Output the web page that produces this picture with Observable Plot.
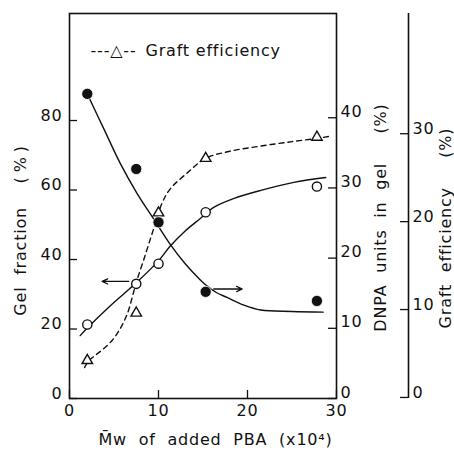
<!DOCTYPE html>
<html><head><meta charset="utf-8">
<script src="https://cdn.jsdelivr.net/npm/d3@7"></script>
<script src="https://cdn.jsdelivr.net/npm/@observablehq/plot@0.6"></script>
<style>
body{margin:0;background:#fff;}
svg text{letter-spacing:0.8px;}
</style></head><body><div id="chart"></div>
<script>
// measured points (x = Mw of added PBA, x10^4)
const mw = [2, 7.5, 10, 15.3, 27.8];
const gelFraction = [21.3, 33.0, 38.8, 53.6, 61.0];   // %, left axis (open circles)
const dnpaUnits = [43.4, 32.7, 25.1, 15.2, 13.9];     // %, DNPA axis (filled circles)
const graftEff = [4.2, 9.6, 21.0, 27.2, 29.6];        // %, graft axis (triangles)

// hand-drawn guide curves
const gelCurveX = [1.2, 2, 4.5, 7.5, 10, 11.3, 13, 14.7, 16.2, 18.5, 21.5, 25.2, 28.8];
const gelCurveY = [18.1, 20.3, 26.5, 33.3, 39.6, 43.8, 48.2, 51.8, 55, 57.6, 59.9, 62.2, 63.6];
const dnpaCurveX = [2, 3.9, 5.7, 7.6, 9.5, 11.3, 13, 14.7, 15.5, 16.5, 17.7, 19.6, 21.5, 25, 28.5];
const dnpaCurveY = [43.4, 38.3, 33.5, 29.2, 25.5, 22.0, 19.2, 16.9, 16.0, 15.1, 14.4, 13.3, 12.6, 12.4, 12.3];
const graftCurveX = [1.7, 2.1, 2.9, 3.9, 4.8, 5.5, 6.1, 6.6, 7.1, 7.6, 8.35, 9.3, 10.4, 11.3, 13.3, 15.3, 18, 21.5, 25, 28, 29.2];
const graftCurveY = [3.4, 4.1, 4.8, 5.6, 6.5, 7.5, 8.6, 9.8, 11.6, 13.4, 15.7, 18.7, 22.1, 23.7, 25.6, 27.2, 28.0, 28.6, 29.1, 29.5, 29.7];

// arrows pointing to the axis of each series
const gelArrow = {x1: 6.65, x2: 3.67, v: 33.7};
const dnpaArrow = {x1: 16.2, x2: 19.4, v: 15.6};

// tick labels
const xTicks = [0, 10, 20, 30];
const gelTicks = [0, 20, 40, 60, 80];
const dnpaTicks = [0, 10, 20, 30, 40];
const graftTicks = [0, 10, 20, 30];

const legendSymbol = "---\u25B3--";
const legendText = "Graft efficiency";
const xTitle = "M\u0304w\u00a0\u00a0of\u00a0\u00a0added\u00a0\u00a0PBA\u00a0\u00a0(x10\u2074)";
const gelTitle = "Gel\u00a0\u00a0fraction\u00a0\u00a0\u00a0\u00a0(\u2009%\u2009)";
const dnpaTitle = "DNPA\u00a0\u00a0units\u00a0\u00a0in\u00a0\u00a0gel\u00a0\u00a0\u00a0\u00a0\u00a0(%)";
const graftTitle = "Graft\u00a0\u00a0efficiency\u00a0\u00a0\u00a0\u00a0\u00a0(%)";

// secondary axes expressed on the left (gel) scale
const F_DNPA = 2.02;
const F_GRAFT = 2.53, OFF_GRAFT = 0.3;
const fromDnpa = v => v * F_DNPA;
const fromGraft = v => v * F_GRAFT + OFF_GRAFT;

const X_MAX = 30, Y_MAX = 110.8;
const TICK_X = 0.9;   // tick length in x units (~8 px)
const TICK_Y = 2.3;   // tick length in y units (~8 px)

const pts = mw.map((x, i) => ({x, gel: gelFraction[i], dnpa: fromDnpa(dnpaUnits[i]), graft: fromGraft(graftEff[i])}));
const gelCurve = gelCurveX.map((x, i) => ({x, y: gelCurveY[i]}));
const dnpaCurve = dnpaCurveX.map((x, i) => ({x, y: fromDnpa(dnpaCurveY[i])}));
const graftCurve = graftCurveX.map((x, i) => ({x, y: fromGraft(graftCurveY[i])}));
const arrows = [
  {x1: gelArrow.x1, x2: gelArrow.x2, y: gelArrow.v},
  {x1: dnpaArrow.x1, x2: dnpaArrow.x2, y: fromDnpa(dnpaArrow.v)}
];

const ink = "#111";
const chart = Plot.plot({
  width: 454, height: 450,
  marginLeft: 69, marginRight: 118, marginTop: 13, marginBottom: 52,
  x: {domain: [0, X_MAX]},
  y: {domain: [0, Y_MAX]},
  style: {fontFamily: "'DejaVu Sans', sans-serif", fontSize: "16px", color: ink, background: "#fff", overflow: "visible"},
  marks: [
    Plot.frame({stroke: ink, strokeWidth: 1.6}),
    Plot.ruleX([X_MAX], {dx: 72, stroke: ink, strokeWidth: 1.6}),
    // inward ticks
    Plot.ruleX(xTicks, {x: d => d, y1: 0, y2: TICK_Y, stroke: ink, strokeWidth: 1.3}),
    Plot.ruleY(gelTicks, {y: d => d, x1: 0, x2: TICK_X, stroke: ink, strokeWidth: 1.3}),
    Plot.ruleY(dnpaTicks.map(fromDnpa), {y: d => d, x1: X_MAX - TICK_X, x2: X_MAX, stroke: ink, strokeWidth: 1.3}),
    Plot.ruleY(graftTicks.map(fromGraft), {y: d => d, x1: X_MAX - TICK_X, x2: X_MAX, dx: 72, stroke: ink, strokeWidth: 1.3}),
    // tick labels
    Plot.axisX({ticks: xTicks, anchor: "bottom", tickSize: 0, tickPadding: 6, label: null, tickFormat: d => String(d)}),
    Plot.axisY({ticks: gelTicks, anchor: "left", tickSize: 0, tickPadding: 7, dy: -5, label: null, tickFormat: d => String(d)}),
    Plot.axisY({ticks: dnpaTicks.map(fromDnpa), anchor: "right", tickSize: 0, tickPadding: 4, dy: -6, label: null,
      tickFormat: d => String(Math.round(d / F_DNPA))}),
    Plot.axisY({ticks: graftTicks.map(fromGraft), anchor: "right", tickSize: 0, tickPadding: 4, dx: 72, dy: -5, label: null,
      tickFormat: d => String(Math.round((d - OFF_GRAFT) / F_GRAFT))}),
    // curves
    Plot.line(gelCurve, {x: "x", y: "y", curve: "catmull-rom", stroke: ink, strokeWidth: 1.4}),
    Plot.line(dnpaCurve, {x: "x", y: "y", curve: "catmull-rom", stroke: ink, strokeWidth: 1.4}),
    Plot.line(graftCurve, {x: "x", y: "y", curve: "catmull-rom", stroke: ink, strokeWidth: 1.4, strokeDasharray: "5,4"}),
    // arrows
    Plot.arrow(arrows, {x1: "x1", x2: "x2", y1: "y", y2: "y", stroke: ink, strokeWidth: 1.3, headLength: 7, headAngle: 50}),
    // markers
    Plot.dot(pts, {x: "x", y: "graft", symbol: "triangle", r: 3.9, fill: "white", stroke: ink, strokeWidth: 1.4}),
    Plot.dot(pts, {x: "x", y: "gel", r: 4.6, fill: "white", stroke: ink, strokeWidth: 1.4}),
    Plot.dot(pts, {x: "x", y: "dnpa", r: 5.6, fill: ink, stroke: "white", strokeWidth: 0.8}),
    // legend
    Plot.text([legendSymbol], {text: d => d, frameAnchor: "top-left", dx: 21, dy: 37, textAnchor: "start", lineAnchor: "middle", fill: ink}),
    Plot.text([legendText], {text: d => d, frameAnchor: "top-left", dx: 76, dy: 37, textAnchor: "start", lineAnchor: "middle", fill: ink}),
    // titles
    Plot.text([xTitle], {text: d => d, frameAnchor: "bottom", dx: 12.5, dy: 41, textAnchor: "middle", lineAnchor: "middle", fill: ink}),
    Plot.text([gelTitle], {text: d => d, frameAnchor: "left", dx: -49, dy: 24.5, rotate: -90, textAnchor: "middle", lineAnchor: "middle", fill: ink}),
    Plot.text([dnpaTitle], {text: d => d, frameAnchor: "right", dx: 44, dy: 11.5, rotate: -90, textAnchor: "middle", lineAnchor: "middle", fill: ink}),
    Plot.text([graftTitle], {text: d => d, frameAnchor: "right", dx: 109, dy: 22, rotate: -90, textAnchor: "middle", lineAnchor: "middle", fill: ink})
  ]
});
document.getElementById("chart").appendChild(chart);
</script></body></html>
